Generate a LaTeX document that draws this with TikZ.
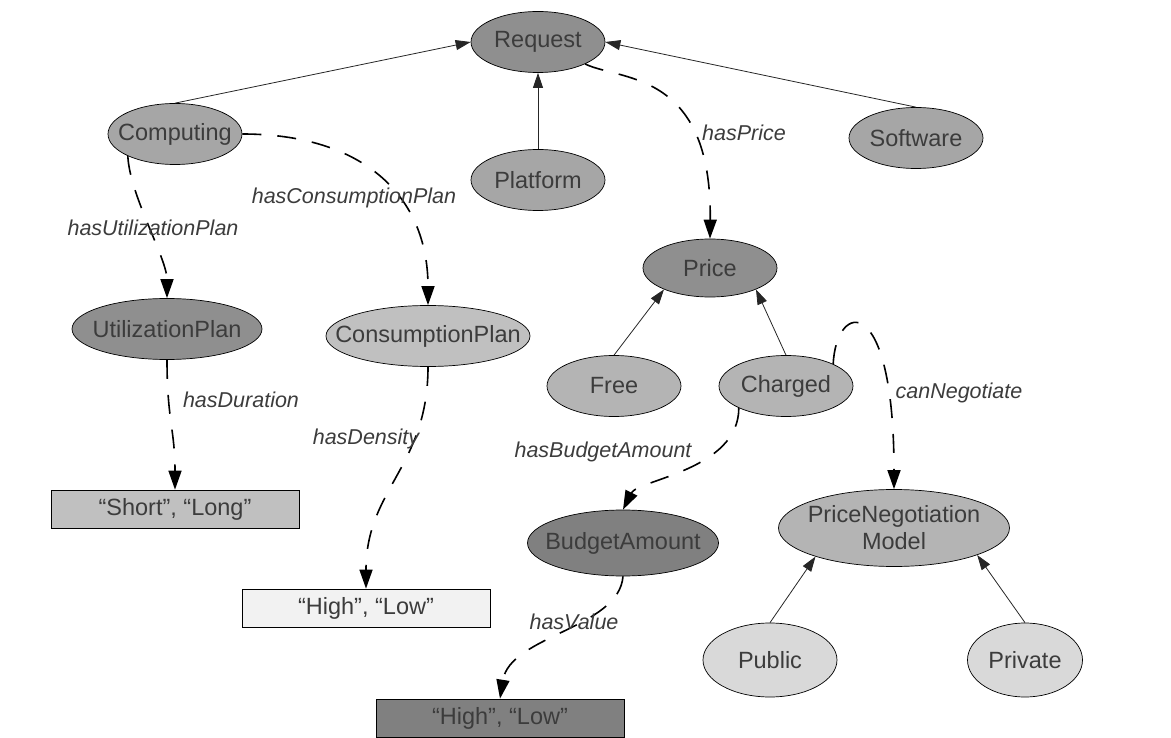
\documentclass[tikz,border=0pt]{standalone}
\usepackage{fontspec}
\setmainfont{Liberation Sans}
\usetikzlibrary{arrows.meta, shapes.geometric}
\definecolor{ctext}{HTML}{3C3C3C}
\definecolor{cdarkest}{HTML}{808080}
\definecolor{cdark}{HTML}{8F8F8F}
\definecolor{cmid}{HTML}{A6A6A6}
\definecolor{clight}{HTML}{B4B4B4}
\definecolor{clighter}{HTML}{C0C0C0}
\definecolor{cpale}{HTML}{D9D9D9}
\definecolor{cwhite}{HTML}{F2F2F2}

\begin{document}
\begin{tikzpicture}[
    x=1pt, y=-1pt,
    font=\fontsize{23.5}{27}\selectfont,
    concept/.style={ellipse, draw=black, line width=0.7pt, inner sep=0pt, minimum width=134pt, minimum height=61pt},
    literal/.style={rectangle, draw=black, line width=0.7pt, minimum width=248pt, minimum height=38pt, text=ctext},
    ctext/.style={text=ctext, align=center},
    isa/.style={-{Triangle[length=15pt, width=10pt]}, black!85, line width=0.8pt},
    prop/.style={-{Triangle[length=19pt, width=13pt]}, black, line width=1.6pt, dash pattern=on 19pt off 16pt},
    rel/.style={font=\fontsize{21.5}{24}\selectfont\itshape, text=ctext}
]
\useasboundingbox (0,0) rectangle (1171,738);

% Top level
\node[concept, fill=cdark, label={[ctext]center:Request}] (request) at (538,42) {};
\node[concept, fill=cmid, label={[ctext]center:Computing}] (computing) at (175,134) {};
\node[concept, fill=cmid, label={[ctext]center:Platform}] (platform) at (538,180) {};
\node[concept, fill=cmid, label={[ctext]center:Software}] (software) at (916,138) {};

% Plans
\node[concept, fill=cdark, minimum width=190pt, label={[ctext]center:UtilizationPlan}] (uplan) at (167,329) {};
\node[concept, fill=clighter, minimum width=204pt, label={[ctext]center:ConsumptionPlan}] (cplan) at (428,336) {};

% Price
\node[concept, fill=cdark, minimum height=58pt, label={[ctext]center:Price}] (price) at (710,268) {};
\node[concept, fill=clight, label={[ctext]center:Free}] (free) at (614,386) {};
\node[concept, fill=clight, label={[ctext]center:Charged}] (charged) at (786,386) {};
\node[concept, fill=cdarkest, minimum width=191pt, minimum height=66pt, label={[ctext]center:BudgetAmount}] (budget) at (623,543) {};
\node[concept, fill=clight, minimum width=231pt, minimum height=77pt, label={[ctext]center:PriceNegotiation\\Model}] (pnm) at (894,528) {};
\node[concept, fill=cpale, minimum height=74pt, label={[ctext]center:Public}] (public) at (770,660) {};
\node[concept, fill=cpale, minimum width=115pt, minimum height=74pt, label={[ctext]center:Private}] (private) at (1025,660) {};

% Values
\node[literal, fill=clighter] (shortlong) at (175,509) {“Short”, “Long”};
\node[literal, fill=cwhite] (highlowa) at (366,608) {“High”, “Low”};
\node[literal, fill=cdarkest] (highlowb) at (500,718) {“High”, “Low”};

% Subclass arrows
\draw[isa] (computing.north) -- (request.west);
\draw[isa] (platform) -- (request);
\draw[isa] (software.north) -- (request.east);
\draw[isa] (free.north) -- (price.205);
\draw[isa] (charged.north) -- (price.-25);
\draw[isa] (public.north) -- (pnm.200);
\draw[isa] (private.north) -- (pnm.-18);

% Properties
\draw[prop] (request.-25) .. controls +(35,17) and +(2,-169) .. (price.north);
\draw[prop] (computing.-155) .. controls +(2,40) and +(0,-40) .. (uplan.north);
\draw[prop] (computing.east) .. controls +(120,0) and +(0,-110) .. (cplan.north);
\draw[prop] (uplan.south) .. controls +(0,60) and +(0,-60) .. (shortlong.north);
\draw[prop] (cplan.south) .. controls +(0,100) and +(0,-100) .. (highlowa.north);
\draw[prop] (charged.-155) .. controls +(0,62) and +(15,-30) .. (budget.north);
\draw[prop] (charged.25) .. controls +(3,-63) and +(0,-199) .. (pnm.north);
\draw[prop] (budget.south) .. controls +(-4,52) and +(10,-63) .. (highlowb.north);

% Property names
\node[rel] (lprice) at (744,133) {hasPrice};
\node[rel] (luplan) at (153,228) {hasUtilizationPlan};
\node[rel] (lcplan) at (354,198) {hasConsumptionPlan};
\node[rel] (lduration) at (241,400) {hasDuration};
\node[rel] (ldensity) at (366,439) {hasDensity};
\node[rel] (lbudget) at (603,452) {hasBudgetAmount};
\node[rel] (lnegotiate) at (959,393) {canNegotiate};
\node[rel] (lvalue) at (574,622) {hasValue};

\end{tikzpicture}
\end{document}
